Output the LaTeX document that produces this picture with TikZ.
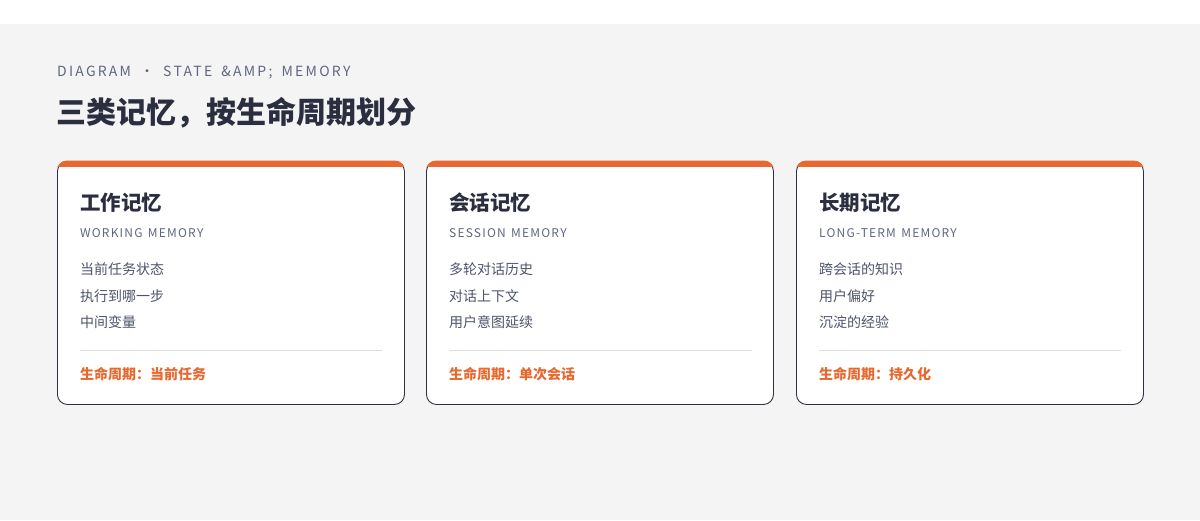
\documentclass[tikz,border=0pt]{standalone}
\usepackage{fontspec}
\setmainfont{Noto Sans CJK SC}
\newfontfamily\capsfont[LetterSpace=16]{Noto Sans CJK SC}
\newfontfamily\subcapsfont[LetterSpace=10]{Noto Sans CJK SC}
\definecolor{pagebg}{HTML}{F4F4F4}
\definecolor{cardline}{HTML}{2E3142}
\definecolor{accent}{HTML}{E8692F}
\definecolor{inkdark}{HTML}{2B2E3F}
\definecolor{inkgray}{HTML}{5F6780}
\definecolor{inkbody}{HTML}{4E556B}
\definecolor{rule}{HTML}{DDDDDD}
\newcommand{\wsp}{\ \hspace{3.7pt}}
\newcommand{\ssp}{\ \hspace{1.5pt}}
\begin{document}
\begin{tikzpicture}[x=1pt,y=-1pt,
  card/.style={draw=cardline, line width=0.9pt, fill=white, rounded corners=10pt,
    minimum width=347pt, minimum height=243pt, inner sep=0pt, anchor=north west},
  kicker/.style={anchor=west, inner sep=0pt, text depth=0pt, text=inkgray, font=\capsfont\fontsize{14}{16}\selectfont},
  headline/.style={anchor=west, inner sep=0pt, text=inkdark, font=\bfseries\fontsize{30}{33}\selectfont},
  cardtitle/.style={anchor=west, inner sep=0pt, text=inkdark, font=\bfseries\fontsize{20.5}{24}\selectfont},
  cardsub/.style={anchor=west, inner sep=0pt, text depth=0pt, text=inkgray, font=\subcapsfont\fontsize{12}{14}\selectfont},
  item/.style={anchor=west, inner sep=0pt, text=inkbody, font=\fontsize{14}{16}\selectfont},
  life/.style={anchor=west, inner sep=0pt, text=accent, font=\bfseries\fontsize{14}{16}\selectfont},
]
\useasboundingbox (0,0) rectangle (1200,520);
\fill[white] (0,0) rectangle (1200,24);
\fill[pagebg] (0,24) rectangle (1200,520);

\node[kicker] (kick) at (57,71) {DIAGRAM\wsp·\wsp STATE\wsp\&AMP;\wsp MEMORY};
\node[headline] (head) at (56,113) {三类记忆，按生命周期划分};

% cards
\foreach \n/\x in {c1/57, c2/426, c3/796}{
  \node[card] (\n) at (\x,161) {};
  \begin{scope}
    \clip[rounded corners=10.45pt] ([shift={(-0.45pt,0.45pt)}]\n.north west) rectangle ([shift={(0.45pt,-0.45pt)}]\n.south east);
    \fill[accent] ([yshift=1pt]\n.north west) rectangle ([yshift=-6pt]\n.north east);
  \end{scope}
}

% card 1
\node[cardtitle] (t1) at (80,203) {工作记忆};
\node[cardsub] (s1) at (80,233.5) {WORKING\ssp MEMORY};
\node[item] (a1) at (80,269) {当前任务状态};
\node[item] (b1) at (80,296) {执行到哪一步};
\node[item] (d1) at (80,322) {中间变量};
\coordinate (r1l) at (80,350.5);
\coordinate (r1r) at (382,350.5);
\draw[rule, line width=0.8pt] (r1l) -- (r1r);
\node[life] (l1) at (80,374) {生命周期：当前任务};

% card 2
\node[cardtitle] (t2) at (449,203) {会话记忆};
\node[cardsub] (s2) at (449,233.5) {SESSION\ssp MEMORY};
\node[item] (a2) at (449,269) {多轮对话历史};
\node[item] (b2) at (449,296) {对话上下文};
\node[item] (d2) at (449,322) {用户意图延续};
\coordinate (r2l) at (449,350.5);
\coordinate (r2r) at (752,350.5);
\draw[rule, line width=0.8pt] (r2l) -- (r2r);
\node[life] (l2) at (449,374) {生命周期：单次会话};

% card 3
\node[cardtitle] (t3) at (819,203) {长期记忆};
\node[cardsub] (s3) at (819,233.5) {LONG-TERM\ssp MEMORY};
\node[item] (a3) at (819,269) {跨会话的知识};
\node[item] (b3) at (819,296) {用户偏好};
\node[item] (d3) at (819,322) {沉淀的经验};
\coordinate (r3l) at (819,350.5);
\coordinate (r3r) at (1121,350.5);
\draw[rule, line width=0.8pt] (r3l) -- (r3r);
\node[life] (l3) at (819,374) {生命周期：持久化};
\end{tikzpicture}
\end{document}
